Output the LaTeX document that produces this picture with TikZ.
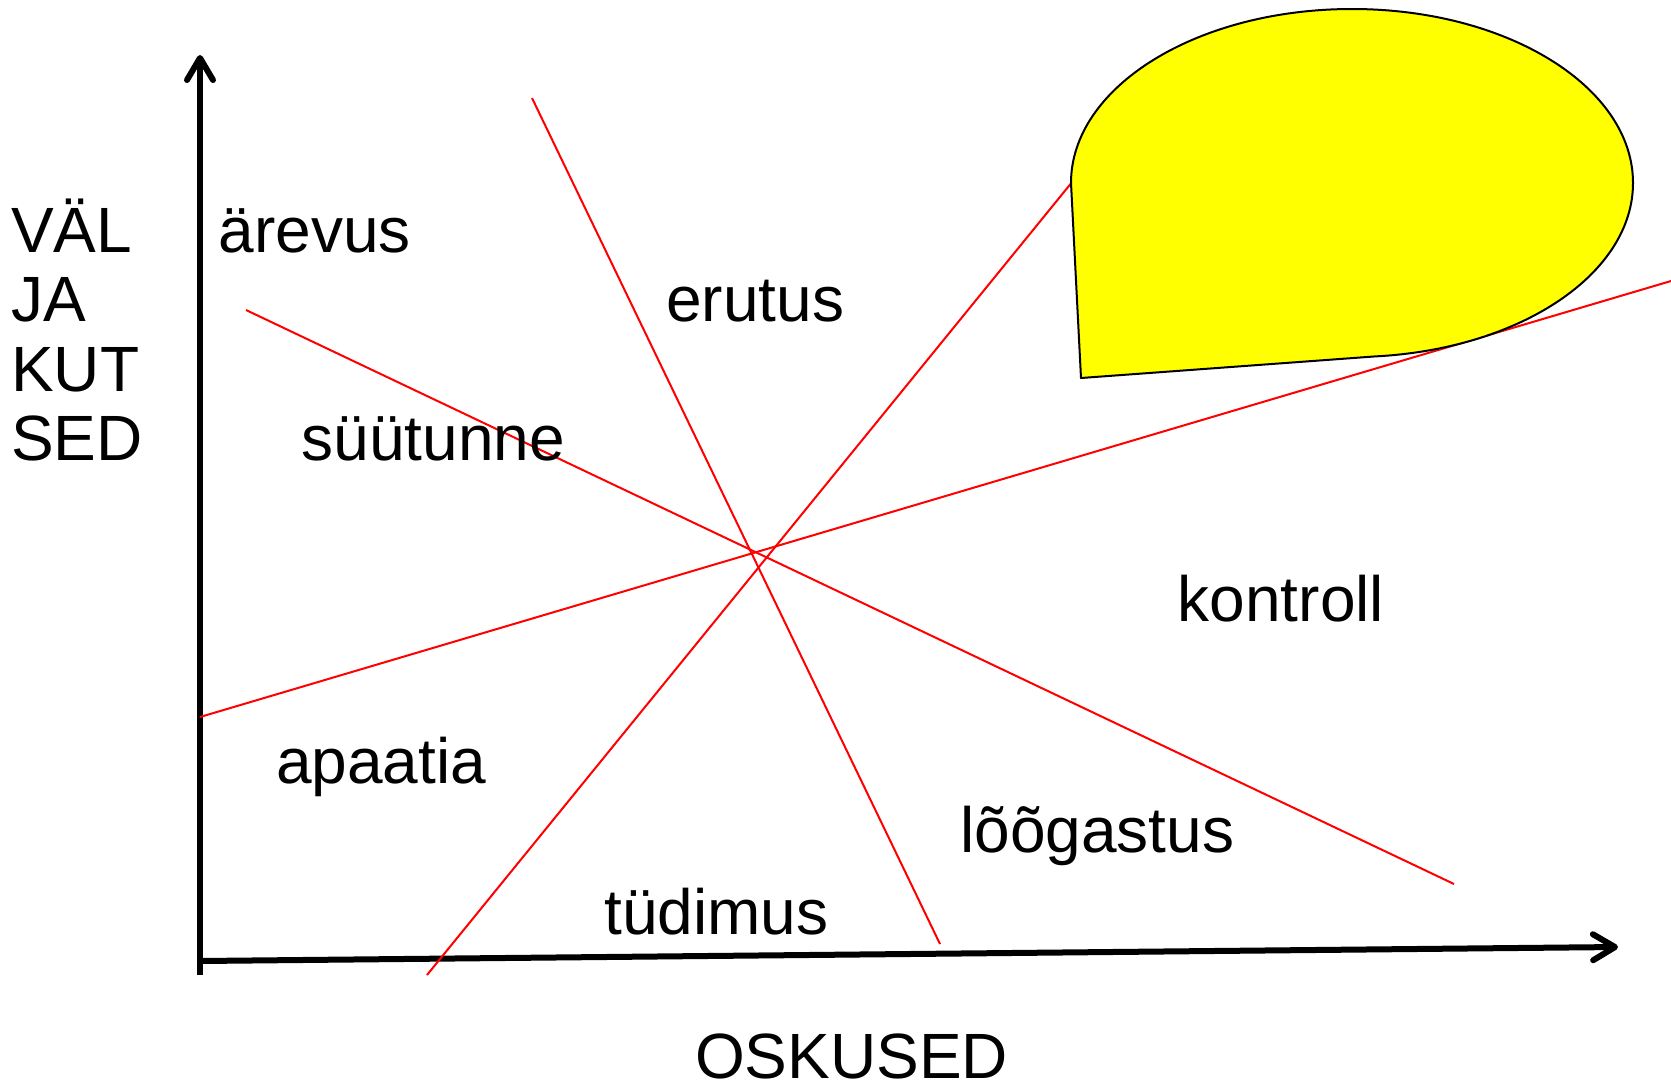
\documentclass[tikz,border=0pt]{standalone}
\usepackage{fontspec}
\setmainfont{Liberation Sans}
\usetikzlibrary{arrows.meta}
\begin{document}
\begin{tikzpicture}[x=1pt,y=-1pt,
  axis/.style={line width=6pt,-{Straight Barb[length=22pt,width=26pt,round]}},
  redline/.style={draw=red,line width=2pt},
  lbl/.style={anchor=base west,inner sep=0pt,font=\fontsize{64pt}{69.3pt}\selectfont},
  bubble/.style={fill={rgb,255:red,255;green,255;blue,0},draw=black,line width=2pt,line join=round}]
\useasboundingbox (0,0) rectangle (1671,1088);
% axes
\coordinate (O) at (200,961);
\coordinate (Ybot) at (200,975);
\coordinate (Ytop) at (200,55);
\coordinate (Xtip) at (1618,947);
\draw[axis] (Ybot) -- (Ytop);
\draw[axis] (O) -- (Xtip);
% red lines
\coordinate (a1) at (532,98);   \coordinate (a2) at (940,944);
\coordinate (b1) at (246,310);  \coordinate (b2) at (1454,884);
\coordinate (c1) at (200,717);  \coordinate (c2) at (1671,281);
\coordinate (d1) at (427,975);  \coordinate (d2) at (1090,160);
\draw[redline] (a1) -- (a2);
\draw[redline] (b1) -- (b2);
\draw[redline] (c1) -- (c2);
\draw[redline] (d1) -- (d2);
% speech bubble
\coordinate (bc) at (1352,183);
\draw[bubble] (1071,183) arc[start angle=180,end angle=445.3,x radius=281,y radius=174]
  -- (1081,378) -- cycle;
% labels
\node[lbl] (v1) at (11,252.6) {VÄL};
\node[lbl] (v2) at (11,321.8) {JA};
\node[lbl] (v3) at (11,391.1) {KUT};
\node[lbl] (v4) at (11,460.4) {SED};
\node[lbl] (arevus) at (218.5,252.6) {ärevus};
\node[lbl] (erutus) at (666,321.8) {erutus};
\node[lbl] (syytunne) at (301.6,460.4) {süütunne};
\node[lbl] (kontroll) at (1177.6,621.3) {kontroll};
\node[lbl] (apaatia) at (276,783.3) {apaatia};
\node[lbl] (loogastus) at (960.2,852.6) {lõõgastus};
\node[lbl] (tydimus) at (604.3,934.6) {tüdimus};
\node[lbl] (oskused) at (694.8,1078) {OSKUSED};
\end{tikzpicture}
\end{document}
